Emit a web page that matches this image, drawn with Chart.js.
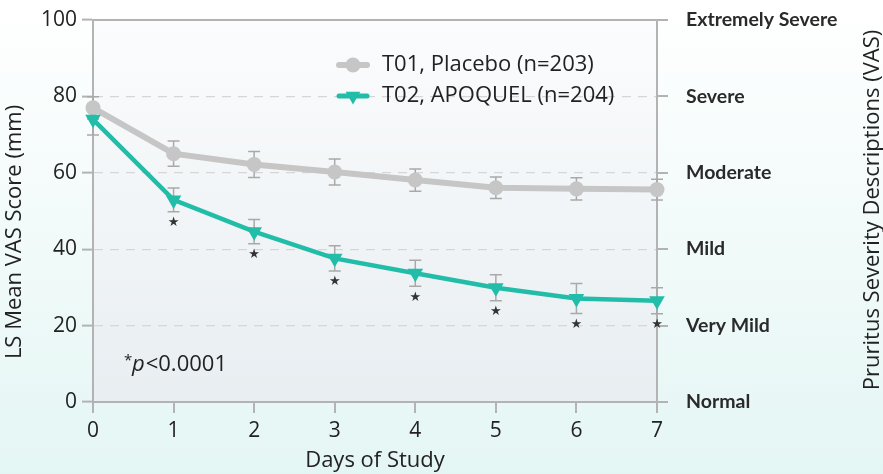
<!DOCTYPE html>
<html>
<head>
<meta charset="utf-8">
<script src="https://cdn.jsdelivr.net/npm/chart.js@4/dist/chart.umd.min.js"></script>
<style>
  html, body { margin: 0; padding: 0; background: #fff; }
  #wrap { width: 883px; height: 474px; position: relative; }
</style>
</head>
<body>
<div id="wrap"><canvas id="vas-chart"></canvas></div>
<script>
// LS mean VAS pruritus score by study day
const days = [0, 1, 2, 3, 4, 5, 6, 7];
const placebo = [77.0, 65.0, 62.2, 60.2, 58.1, 56.1, 55.8, 55.6];
const placeboErr = [2.9, 3.3, 3.4, 3.4, 2.9, 2.8, 2.9, 2.7];
const apoquel = [74.0, 52.9, 44.6, 37.6, 33.7, 29.9, 27.1, 26.5];
const apoquelErr = [4.1, 3.1, 3.2, 3.3, 3.4, 3.4, 3.9, 3.4];
const significant = [false, true, true, true, true, true, true, true];
const yTicks = [0, 20, 40, 60, 80, 100];
const severity = ['Normal', 'Very Mild', 'Mild', 'Moderate', 'Severe', 'Extremely Severe'];

const grey = '#c6c6c6';
const teal = '#22bda8';
const axisGrey = '#b3b3b3';
const textDark = '#222';

const toPoints = (vals) => days.map((d, i) => ({ x: d, y: vals[i] }));

// keep the plot box where the reference has it
const pinScale = (size) => (s) => {
  if (s.isHorizontal()) s.height = size; else s.width = size;
  s.paddingTop = 0; s.paddingBottom = 0; s.paddingLeft = 0; s.paddingRight = 0;
};

/* ---- backgrounds ---- */
const backdrop = {
  id: 'backdrop',
  beforeDraw(chart) {
    const { ctx, width, height, chartArea: a } = chart;
    ctx.save();
    let g = ctx.createLinearGradient(0, 0, 0, height);
    g.addColorStop(0, '#ffffff');
    g.addColorStop(1, '#e4f6f4');
    ctx.fillStyle = g;
    ctx.fillRect(0, 0, width, height);
    g = ctx.createLinearGradient(0, a.top, 0, a.bottom);
    g.addColorStop(0, '#fbfcfd');
    g.addColorStop(1, '#e8eef1');
    ctx.fillStyle = g;
    ctx.fillRect(a.left, a.top, a.right - a.left, a.bottom - a.top);
    ctx.restore();
  },
  beforeDatasetsDraw(chart) {
    // top frame line
    const { ctx, chartArea: a } = chart;
    ctx.save();
    ctx.strokeStyle = axisGrey;
    ctx.lineWidth = 2;
    ctx.beginPath();
    ctx.moveTo(a.left, a.top);
    ctx.lineTo(a.right, a.top);
    ctx.stroke();
    ctx.restore();
  }
};

/* ---- error bars + significance stars ---- */
const errorBars = {
  id: 'errorBars',
  beforeDatasetsDraw(chart) {
    const { ctx, scales: { x, y } } = chart;
    const sets = [[placebo, placeboErr], [apoquel, apoquelErr]];
    ctx.save();
    ctx.strokeStyle = '#a9a9a9';
    ctx.lineWidth = 1.5;
    sets.forEach(([vals, errs]) => {
      days.forEach((d, i) => {
        const px = x.getPixelForValue(d);
        const top = y.getPixelForValue(vals[i] + errs[i]);
        const bot = y.getPixelForValue(vals[i] - errs[i]);
        ctx.beginPath();
        ctx.moveTo(px, top); ctx.lineTo(px, bot);
        ctx.moveTo(px - 6, top); ctx.lineTo(px + 6, top);
        ctx.moveTo(px - 6, bot); ctx.lineTo(px + 6, bot);
        ctx.stroke();
      });
    });
    ctx.restore();
  },
  afterDatasetsDraw(chart) {
    const { ctx, scales: { x, y } } = chart;
    ctx.save();
    ctx.fillStyle = '#333';
    ctx.font = '13px "DejaVu Sans"';
    ctx.textAlign = 'center';
    ctx.textBaseline = 'middle';
    days.forEach((d, i) => {
      if (!significant[i]) return;
      const px = x.getPixelForValue(d);
      const py = y.getPixelForValue(apoquel[i] - apoquelErr[i]) + 11;
      ctx.fillText('\u2605', px, py);
    });
    ctx.restore();
  }
};

/* ---- legend, note, axis titles ---- */
const extras = {
  id: 'extras',
  afterDraw(chart) {
    const { ctx } = chart;
    ctx.save();
    // legend
    const rows = [
      { label: 'T01, Placebo (n=203)', color: grey, width: 6, style: 'circle', r: 7.5, rot: 0, y: 65 },
      { label: 'T02, APOQUEL (n=204)', color: teal, width: 5, style: 'triangle', r: 8.5, rot: 180, y: 96 }
    ];
    rows.forEach(r => {
      ctx.strokeStyle = r.color;
      ctx.lineWidth = r.width;
      ctx.lineCap = 'round';
      ctx.beginPath();
      ctx.moveTo(339, r.y); ctx.lineTo(367, r.y);
      ctx.stroke();
      ctx.fillStyle = r.color;
      Chart.helpers.drawPoint(ctx, { pointStyle: r.style, radius: r.r, rotation: r.rot, borderWidth: 0 }, 353, r.y);
      ctx.fillStyle = textDark;
      ctx.font = '22px "Open Sans"';
      ctx.textBaseline = 'middle';
      ctx.textAlign = 'left';
      ctx.fillText(r.label, 382, r.y);
    });
    // p-value note
    ctx.textBaseline = 'alphabetic';
    ctx.font = '15px "Open Sans"';
    ctx.fillText('*', 124, 365);
    ctx.font = 'italic 22px "Open Sans"';
    ctx.fillText('p', 132, 371);
    const pw = ctx.measureText('p').width;
    ctx.font = '22px "Open Sans"';
    ctx.fillText('<0.0001', 132 + pw + 1, 371);
    ctx.textAlign = 'center';
    ctx.textBaseline = 'middle';
    // left axis title
    ctx.save();
    ctx.translate(15, 232);
    ctx.rotate(-Math.PI / 2);
    ctx.fillText('LS Mean VAS Score (mm)', 0, 0);
    ctx.restore();
    // right axis title
    ctx.translate(873, 210);
    ctx.rotate(-Math.PI / 2);
    ctx.fillText('Pruritus Severity Descriptions (VAS)', 0, 0);
    ctx.restore();
  }
};

Chart.defaults.font.family = '"Open Sans", sans-serif';
Chart.defaults.color = textDark;

new Chart(document.getElementById('vas-chart'), {
  type: 'line',
  data: {
    datasets: [
      {
        label: 'T01, Placebo (n=203)',
        data: toPoints(placebo),
        borderColor: grey,
        backgroundColor: grey,
        borderWidth: 6,
        pointRadius: 7.5,
        pointBorderWidth: 0,
        pointBackgroundColor: grey,
        clip: false,
        order: 1
      },
      {
        label: 'T02, APOQUEL (n=204)',
        data: toPoints(apoquel),
        borderColor: teal,
        backgroundColor: teal,
        borderWidth: 4.5,
        pointStyle: 'triangle',
        rotation: 180,
        pointRadius: 9,
        pointBorderWidth: 0,
        pointBackgroundColor: teal,
        clip: false,
        order: 0
      }
    ]
  },
  options: {
    responsive: true,
    maintainAspectRatio: false,
    animation: false,
    layout: { autoPadding: false, padding: { top: 20, left: 0, right: 0, bottom: 0 } },
    plugins: { legend: { display: false }, tooltip: { enabled: false } },
    scales: {
      x: {
        type: 'linear',
        min: 0,
        max: 7,
        afterBuildTicks: (s) => { s.ticks = days.map(v => ({ value: v })); },
        ticks: { font: { size: 21 }, color: textDark, padding: 5 },
        grid: { drawOnChartArea: false, tickLength: 11, color: axisGrey, lineWidth: 2 },
        border: { color: axisGrey, width: 2 },
        title: { display: true, text: 'Days of Study', font: { size: 22 }, color: textDark, padding: { top: 0, bottom: 0 } },
        afterFit: pinScale(72)
      },
      y: {
        min: 0,
        max: 100,
        afterBuildTicks: (s) => { s.ticks = yTicks.map(v => ({ value: v })); },
        ticks: { font: { size: 21 }, color: textDark, padding: 5 },
        grid: {
          tickLength: 11,
          tickColor: axisGrey,
          tickWidth: 2,
          lineWidth: 1.2,
          color: (c) => (c.tick && (c.tick.value === 0 || c.tick.value === 100)) ? 'rgba(0,0,0,0)' : '#d6d6d6'
        },
        border: { color: axisGrey, width: 2, dash: [9, 7] },
        afterFit: pinScale(93)
      },
      y2: {
        position: 'right',
        min: 0,
        max: 100,
        afterBuildTicks: (s) => { s.ticks = yTicks.map(v => ({ value: v })); },
        ticks: {
          font: { family: 'Lato', size: 19.5, weight: 'bold' },
          color: '#2a2a2a',
          padding: 18,
          callback: (v) => severity[yTicks.indexOf(v)]
        },
        grid: { drawOnChartArea: false, tickLength: 11, color: axisGrey, lineWidth: 2 },
        border: { color: axisGrey, width: 2 },
        afterFit: pinScale(226)
      }
    }
  },
  plugins: [backdrop, errorBars, extras]
});
</script>
</body>
</html>
